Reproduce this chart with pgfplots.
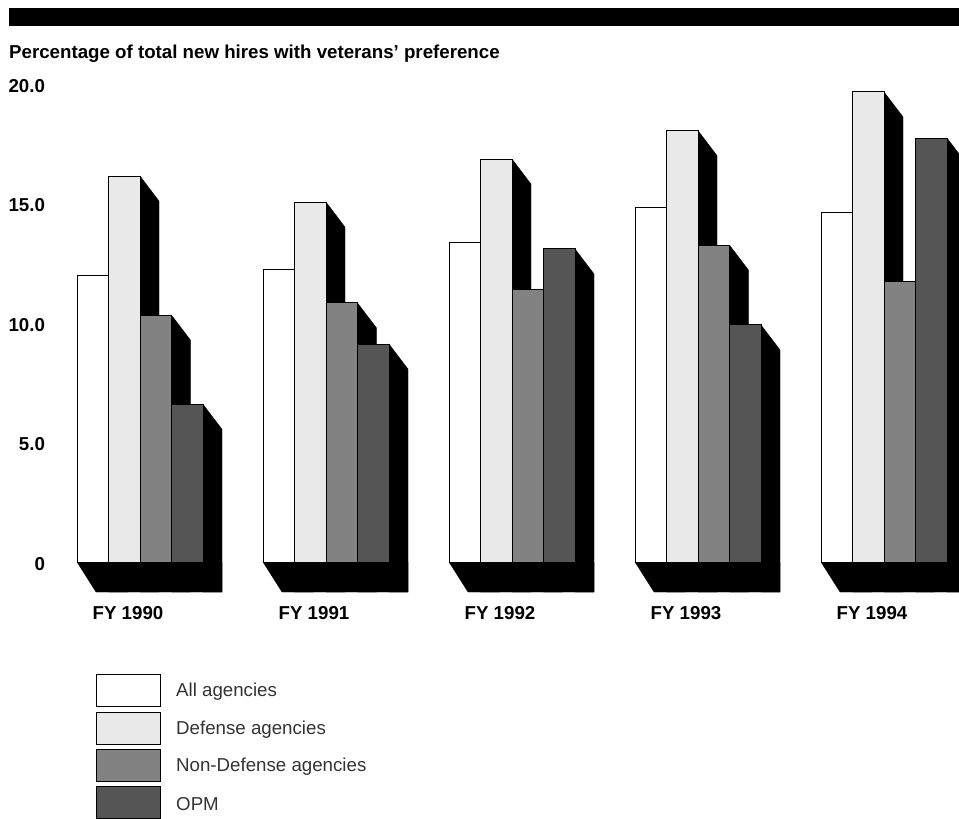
\documentclass[border=0pt]{standalone}
\usepackage{pgfplots}
\pgfplotsset{compat=1.18}
\usepackage{pgfplotstable}
\usepackage{fontspec}
\setmainfont{Liberation Sans}

\definecolor{barall}{HTML}{FFFFFF}
\definecolor{bardef}{HTML}{E9E9E9}
\definecolor{barnon}{HTML}{828282}
\definecolor{baropm}{HTML}{555555}

% px per percent point, and depth of the fake 3d
\newcommand\ppu{23.9}
\newcommand\py[1]{(562-#1)/\ppu}
\newcommand\labelfont{\fontsize{18.7}{21}\selectfont}

\pgfplotstableread{
group x     all   def   non   opm
0     92.75 12.00 16.15 10.33 6.60
1     278.75 12.22 15.06 10.84 9.12
2     464.75 13.35 16.86 11.42 13.10
3     650.75 14.85 18.05 13.26 9.92
4     836.75 14.64 19.67 11.72 17.74
}\hires

% black side of one bar: table row, column name, position in the group
\newcommand\barside[3]{%
  \pgfplotstablegetelem{#1}{#2}\of\hires
  \let\hh\pgfplotsretval
  \pgfmathsetmacro\xa{77+186*#1+31.5*(#3+1)}
  \pgfmathsetmacro\xb{\xa+19}
  \pgfmathsetmacro\yt{\hh-25/\ppu}
  \pgfmathsetmacro\yb{-30/\ppu}
  \edef\tmp{\noexpand\addplot[fill=black,draw=black,line width=0.3pt,forget plot] coordinates {(\xa,\hh)(\xb,\yt)(\xb,\yb)(\xa,\yb)} --cycle;}
  \tmp
}
\newcommand\floor[1]{%
  \pgfmathsetmacro\xa{77+186*#1}
  \pgfmathsetmacro\xc{\xa+19}
  \pgfmathsetmacro\xd{\xa+145}
  \pgfmathsetmacro\yb{-30/\ppu}
  \edef\tmp{\noexpand\addplot[fill=black,draw=black,line width=0.3pt,forget plot] coordinates {(\xa,0)(\xc,\yb)(\xd,\yb)(\xd,0)} --cycle;}
  \tmp
}
\newcommand\swatch[3]{%
  \draw[black,line width=1pt,fill=#2] (axis cs:96,{\py{#1}}) rectangle (axis cs:160,{\py{(#1+32)}});
  \node[anchor=west,inner sep=0pt,font=\labelfont,text=black!80] at (axis cs:176,{\py{(#1+18)}}) {#3};
}

\begin{document}
\begin{tikzpicture}
\begin{axis}[
  scale only axis,
  width=959pt, height=818pt,
  xmin=0, xmax=959,
  ymin=-10.711, ymax=23.515,
  axis line style={draw=none},
  tick style={draw=none},
  xtick={128,314,500,686,872},
  xticklabels={FY 1990,FY 1991,FY 1992,FY 1993,FY 1994},
  xticklabel style={anchor=center,yshift=205pt,font=\labelfont\bfseries},
  ytick={0,5,10,15,20},
  yticklabels={0,5.0,10.0,15.0,20.0},
  yticklabel style={anchor=east,xshift=48.5pt,yshift=-2pt,font=\labelfont\bfseries,/pgf/number format/assume math mode=true},
]

% black sides and floors first, the fronts cover them
\pgfplotsinvokeforeach{0,1,2,3,4}{
  \floor{#1}
  \barside{#1}{all}{0}
  \barside{#1}{def}{1}
  \barside{#1}{non}{2}
  \barside{#1}{opm}{3}
}

\addplot[ybar,bar width=31.5,bar shift=0pt,draw=black,line width=1pt,fill=barall] table[x expr=\thisrow{x},y=all] {\hires};
\addplot[ybar,bar width=31.5,bar shift=0pt,draw=black,line width=1pt,fill=bardef] table[x expr=\thisrow{x}+31.5,y=def] {\hires};
\addplot[ybar,bar width=31.5,bar shift=0pt,draw=black,line width=1pt,fill=barnon] table[x expr=\thisrow{x}+63,y=non] {\hires};
\addplot[ybar,bar width=31.5,bar shift=0pt,draw=black,line width=1pt,fill=baropm] table[x expr=\thisrow{x}+94.5,y=opm] {\hires};

% black band and heading
\fill[black] (axis cs:9,{\py{8}}) rectangle (axis cs:959,{\py{26}});
\node[anchor=west,font=\labelfont\bfseries,inner sep=0pt] at (axis cs:9,{\py{53.5}}) {Percentage of total new hires with veterans' preference};

\swatch{674}{barall}{All agencies}
\swatch{712}{bardef}{Defense agencies}
\swatch{749}{barnon}{Non-Defense agencies}
\swatch{786}{baropm}{OPM}
\end{axis}
\end{tikzpicture}
\end{document}
